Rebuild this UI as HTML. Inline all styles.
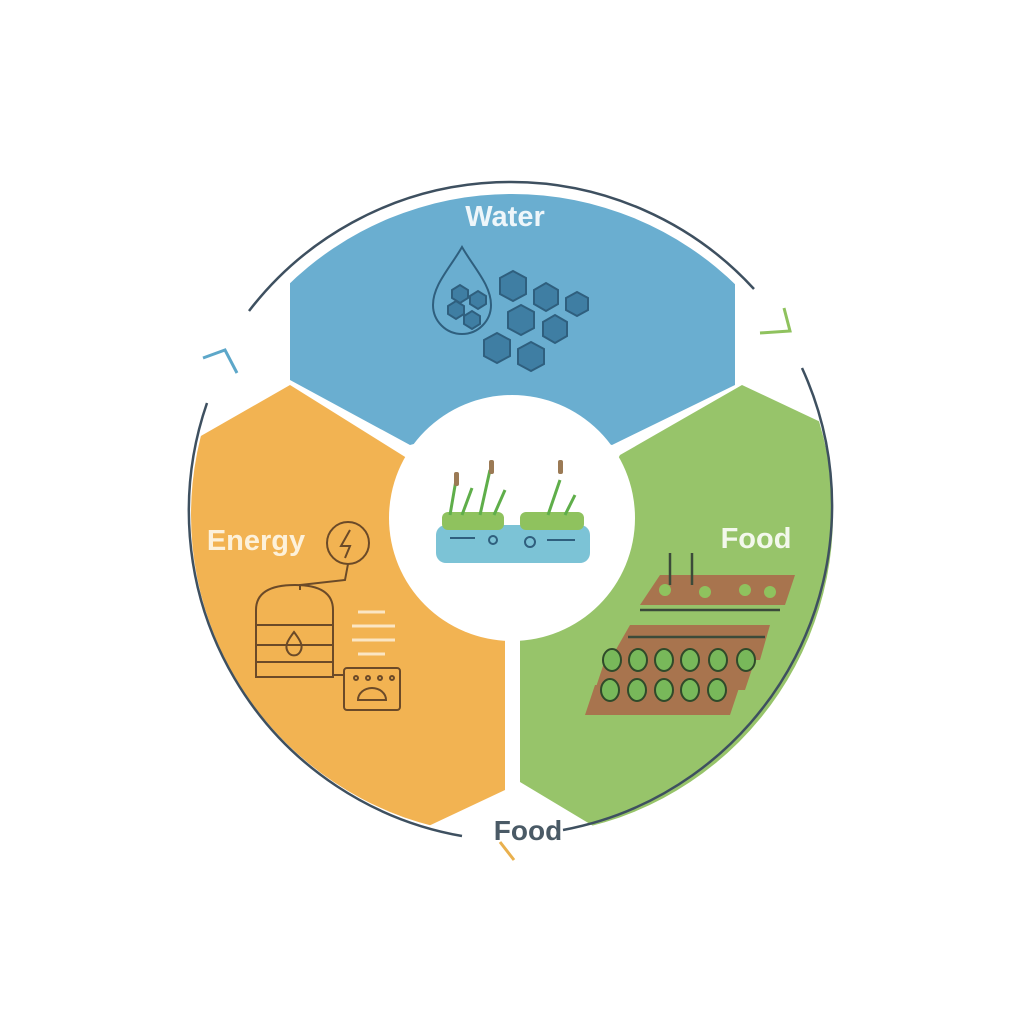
<!DOCTYPE html>
<html><head><meta charset="utf-8"><style>
html,body{margin:0;padding:0;background:#fff;}
svg{display:block}
text{font-family:"Liberation Sans",sans-serif;font-weight:bold}
</style></head><body>
<svg width="1024" height="1024" viewBox="0 0 1024 1024">
<defs>
<clipPath id="c"><circle cx="512" cy="515" r="321"/></clipPath>
</defs>
<g clip-path="url(#c)">
<polygon fill="#6aaed0" points="290,150 735,150 735,385 612,445 512,418 410,445 290,380"/>
<polygon fill="#f2b352" points="150,465 290,385 410,460 470,560 505,635 505,790 420,830 150,830"/>
<polygon fill="#97c46a" points="520,640 620,455 742,385 880,450 880,880 600,830 520,782"/>
</g>
<circle cx="512" cy="518" r="123" fill="#fff"/>
<g fill="none" stroke="#3e5060" stroke-width="2.5">
<path d="M249,311 A330,330 0 0 1 754,289"/>
<path d="M207,403 A330,330 0 0 0 462,836"/>
<path d="M802,368 A330,330 0 0 1 563,830"/>
</g>
<path d="M760,333 L790,331 L784,308" fill="none" stroke="#8fc25e" stroke-width="3"/>
<path d="M203,358 L225,350 L237,373" fill="none" stroke="#5da7c9" stroke-width="3"/>
<path d="M500,842 L514,860" stroke="#e9b04d" stroke-width="3"/>
<text x="505" y="226" font-size="29" fill="#eef6fa" text-anchor="middle">Water</text>
<text x="256" y="550" font-size="29" fill="#fdf1da" text-anchor="middle">Energy</text>
<text x="756" y="548" font-size="29" fill="#f3f8ec" text-anchor="middle">Food</text>
<text x="528" y="840" font-size="28" fill="#4a5a66" text-anchor="middle">Food</text>
<g stroke="#2f5f7e" stroke-width="2" fill="#3f7ea3">
<path d="M462,247 C450,268 433,285 433,305 A29,29 0 0 0 491,305 C491,285 474,268 462,247 Z" fill="#6aaed0"/>
<polygon points="452,290 460,285 468,290 468,298 460,303 452,298"/>
<polygon points="470,296 478,291 486,296 486,304 478,309 470,304"/>
<polygon points="448,306 456,301 464,306 464,314 456,319 448,314"/>
<polygon points="464,316 472,311 480,316 480,324 472,329 464,324"/>
<polygon points="500,278 513,271 526,278 526,294 513,301 500,294"/>
<polygon points="534,290 546,283 558,290 558,304 546,311 534,304"/>
<polygon points="566,298 577,292 588,298 588,310 577,316 566,310"/>
<polygon points="508,312 521,305 534,312 534,328 521,335 508,328"/>
<polygon points="543,322 555,315 567,322 567,336 555,343 543,336"/>
<polygon points="484,340 497,333 510,340 510,356 497,363 484,356"/>
<polygon points="518,349 531,342 544,349 544,364 531,371 518,364"/>
</g>
<rect x="436" y="525" width="154" height="38" rx="10" fill="#7cc3d6"/>
<rect x="442" y="512" width="62" height="18" rx="6" fill="#8fc25e"/>
<rect x="520" y="512" width="64" height="18" rx="6" fill="#8fc25e"/>
<g stroke="#2f5f7e" stroke-width="2" fill="none"><line x1="450" y1="538" x2="475" y2="538"/><circle cx="493" cy="540" r="4"/><circle cx="530" cy="542" r="5"/><line x1="547" y1="540" x2="575" y2="540"/></g>
<g stroke="#5fae4a" stroke-width="3" fill="none"><path d="M450,515 L456,480"/><path d="M462,515 L472,488"/><path d="M480,515 L490,470"/><path d="M494,515 L505,490"/><path d="M548,515 L560,480"/><path d="M565,515 L575,495"/></g>
<g fill="#9b7a55"><rect x="454" y="472" width="5" height="14" rx="2"/><rect x="489" y="460" width="5" height="14" rx="2"/><rect x="558" y="460" width="5" height="14" rx="2"/></g>
<g stroke="#6b4a28" stroke-width="2" fill="none">
<circle cx="348" cy="543" r="21"/>
<path d="M350,530 L341,546 L350,546 L345,558"/>
<path d="M348,564 L345,580 L300,585 L300,590"/>
<path d="M256,610 Q256,585 295,585 Q333,585 333,610 L333,677 L256,677 Z"/>
<line x1="256" y1="625" x2="333" y2="625"/><line x1="256" y1="645" x2="333" y2="645"/><line x1="256" y1="662" x2="333" y2="662"/>
<path d="M294,632 C288,640 284,646 288,652 A7,7 0 0 0 300,652 C304,646 300,640 294,632Z"/>
<line x1="333" y1="675" x2="345" y2="675"/>
<rect x="344" y="668" width="56" height="42" rx="3"/>
<path d="M358,700 A14,12 0 0 1 386,700 Z"/>
<circle cx="356" cy="678" r="2"/><circle cx="368" cy="678" r="2"/><circle cx="380" cy="678" r="2"/><circle cx="392" cy="678" r="2"/>
</g>
<g stroke="#fbe6c4" stroke-width="3"><line x1="358" y1="612" x2="385" y2="612"/><line x1="352" y1="626" x2="395" y2="626"/><line x1="352" y1="640" x2="395" y2="640"/><line x1="358" y1="654" x2="385" y2="654"/></g>
<g fill="#a8744e">
<polygon points="660,575 795,575 785,605 640,605"/>
<polygon points="630,625 770,625 760,660 610,660"/>
<polygon points="605,660 755,660 745,690 595,690"/>
<polygon points="595,685 740,685 730,715 585,715"/>
</g>
<g stroke="#3b4a3a" stroke-width="2.5"><line x1="640" y1="610" x2="780" y2="610"/><line x1="628" y1="637" x2="765" y2="637"/><line x1="670" y1="553" x2="670" y2="585"/><line x1="692" y1="553" x2="692" y2="585"/></g>
<g fill="#8fc25e"><circle cx="665" cy="590" r="6"/><circle cx="705" cy="592" r="6"/><circle cx="745" cy="590" r="6"/><circle cx="770" cy="592" r="6"/></g>
<g stroke="#2f4a2a" stroke-width="2" fill="#78b85a">
<ellipse cx="612" cy="660" rx="9" ry="11"/><ellipse cx="638" cy="660" rx="9" ry="11"/><ellipse cx="664" cy="660" rx="9" ry="11"/><ellipse cx="690" cy="660" rx="9" ry="11"/><ellipse cx="718" cy="660" rx="9" ry="11"/><ellipse cx="746" cy="660" rx="9" ry="11"/>
<ellipse cx="610" cy="690" rx="9" ry="11"/><ellipse cx="637" cy="690" rx="9" ry="11"/><ellipse cx="664" cy="690" rx="9" ry="11"/><ellipse cx="690" cy="690" rx="9" ry="11"/><ellipse cx="717" cy="690" rx="9" ry="11"/>
</g>
</svg>
</body></html>
